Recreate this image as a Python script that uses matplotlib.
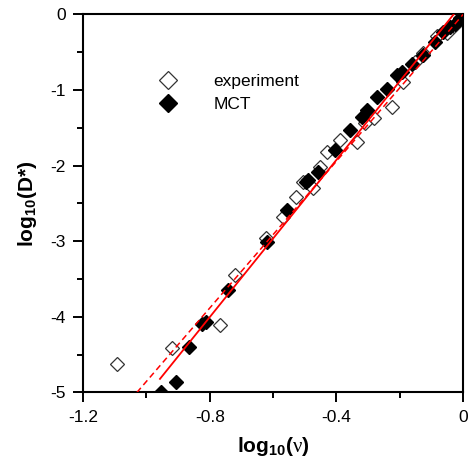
import matplotlib
matplotlib.use("Agg")
import matplotlib.pyplot as plt
from matplotlib.ticker import MultipleLocator

plt.rcParams['font.family'] = ['Liberation Sans', 'DejaVu Sans']
plt.rcParams['axes.unicode_minus'] = False
plt.rcParams['mathtext.fontset'] = 'custom'
plt.rcParams['mathtext.rm'] = 'Liberation Sans:bold'
plt.rcParams['mathtext.bf'] = 'Liberation Sans:bold'
plt.rcParams['mathtext.it'] = 'Liberation Serif'

# experiment (open diamonds)
exp_x = [-1.092, -0.920, -0.767, -0.720, -0.622, -0.567, -0.527, -0.504, -0.474,
         -0.452, -0.430, -0.389, -0.336, -0.310, -0.281, -0.225, -0.189, -0.152,
         -0.125, -0.083, -0.052, -0.030]
exp_y = [-4.62, -4.41, -4.11, -3.44, -2.95, -2.68, -2.42, -2.21, -2.30,
         -2.02, -1.82, -1.66, -1.69, -1.44, -1.37, -1.22, -0.89, -0.625,
         -0.51, -0.29, -0.25, -0.15]

# MCT (filled diamonds)
mct_x = [-0.955, -0.907, -0.865, -0.825, -0.812, -0.741, -0.618, -0.555, -0.496,
         -0.489, -0.457, -0.404, -0.357, -0.320, -0.304, -0.273, -0.241, -0.210,
         -0.194, -0.160, -0.125, -0.089, -0.062, -0.040, -0.025, -0.010]
mct_y = [-5.00, -4.86, -4.40, -4.09, -4.07, -3.65, -3.01, -2.59, -2.21,
         -2.19, -2.08, -1.79, -1.53, -1.35, -1.26, -1.09, -0.98, -0.80,
         -0.76, -0.66, -0.536, -0.36, -0.23, -0.17, -0.12, -0.05]

# fit lines
solid_x = [-0.957, -0.030]
solid_y = [-4.82, 0.0]
dash_x = [-1.030, 0.0]
dash_y = [-5.0, 0.0]

xticks = [-1.2, -0.8, -0.4, 0]
xticklabels = ['-1.2', '-0.8', '-0.4', '0']
yticks = [-5, -4, -3, -2, -1, 0]
yticklabels = ['-5', '-4', '-3', '-2', '-1', '0']

fig = plt.figure(figsize=(4.73, 4.61), dpi=100)
ax = fig.add_axes([0.1755, 0.1486, 0.8035, 0.82])

ax.plot(dash_x, dash_y, color='red', lw=1.1, ls=(0, (4, 2.5)), zorder=3)
ax.plot(solid_x, solid_y, color='red', lw=1.3, zorder=3)
ax.plot(exp_x, exp_y, ls='none', marker='D', ms=6.8, mfc='white', mec='#333333',
        mew=0.9, label='experiment', zorder=2)
ax.plot(mct_x, mct_y, ls='none', marker='D', ms=6.8, mfc='black', mec='black',
        label='MCT', zorder=2)

ax.set_xlim(-1.2, 0)
ax.set_ylim(-5, 0)
ax.set_xticks(xticks)
ax.set_xticklabels(xticklabels)
ax.set_yticks(yticks)
ax.set_yticklabels(yticklabels)
ax.xaxis.set_minor_locator(MultipleLocator(0.2))
ax.yaxis.set_minor_locator(MultipleLocator(0.5))
ax.tick_params(which='both', direction='out', top=False, right=False, width=1.4,
               labelsize=12.5, color='black')
ax.tick_params(which='major', length=7.5, pad=5)
ax.tick_params(which='minor', length=4.5)
for s in ax.spines.values():
    s.set_linewidth(1.5)

ax.set_xlabel(r'log$_{10}$($\nu$)', fontsize=15, fontweight='bold', labelpad=7)
ax.set_ylabel(r'log$_{10}$(D*)', fontsize=15, fontweight='bold', labelpad=8)

ax.legend(loc='upper left', bbox_to_anchor=(0.138, 0.885), frameon=False,
          fontsize=12.5, markerscale=1.35, handlelength=2, handletextpad=1.6,
          labelspacing=0.45, borderpad=0.4, numpoints=1)

fig.savefig('out.png', dpi=100)
